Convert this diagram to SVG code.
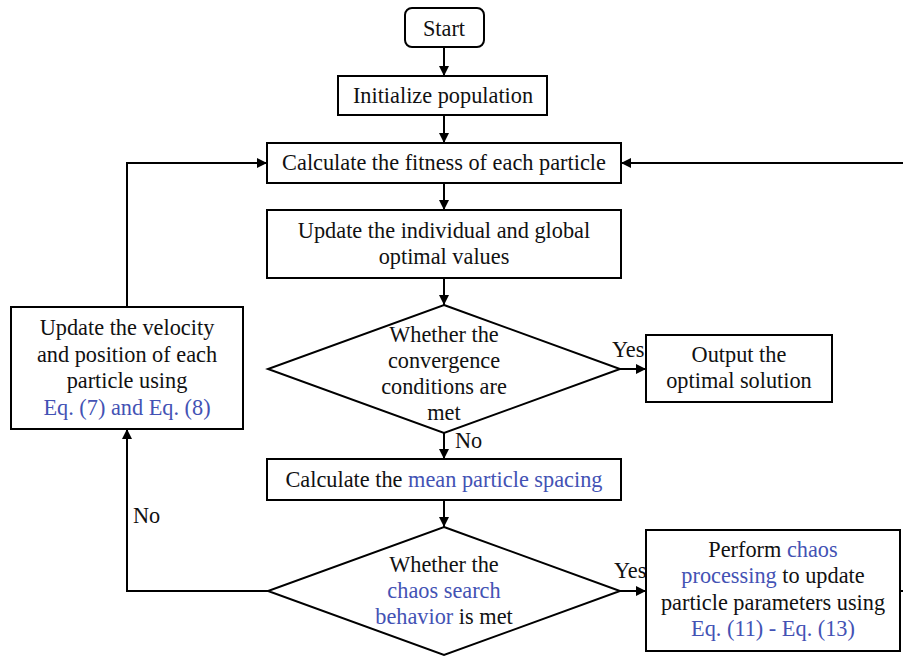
<svg xmlns="http://www.w3.org/2000/svg" width="903" height="658" viewBox="0 0 903 658">
<style>
.box{fill:#fff;stroke:#000;stroke-width:2}
.ln{fill:none;stroke:#000;stroke-width:2}
text{font-family:"Liberation Serif","Times New Roman",serif;font-size:22.3px;fill:#111;text-anchor:middle}
.b{fill:#4352b4}
.l{text-anchor:start}
</style>
<defs>
<marker id="ah" viewBox="0 0 10 10" refX="10" refY="5" markerWidth="10" markerHeight="10" markerUnits="userSpaceOnUse" orient="auto">
<path d="M0,0 L10,5 L0,10 z" fill="#000"/>
</marker>
</defs>
<rect width="903" height="658" fill="#fff"/>
<g id="connectors">
<line class="ln" x1="444" y1="47" x2="444" y2="76" marker-end="url(#ah)"/>
<line class="ln" x1="444" y1="115" x2="444" y2="143" marker-end="url(#ah)"/>
<line class="ln" x1="444" y1="183" x2="444" y2="210" marker-end="url(#ah)"/>
<line class="ln" x1="444" y1="278" x2="444" y2="305" marker-end="url(#ah)"/>
<line class="ln" x1="620" y1="369" x2="646" y2="369" marker-end="url(#ah)"/>
<line class="ln" x1="444" y1="433" x2="444" y2="459" marker-end="url(#ah)"/>
<line class="ln" x1="444" y1="500" x2="444" y2="527" marker-end="url(#ah)"/>
<line class="ln" x1="620" y1="591" x2="646" y2="591" marker-end="url(#ah)"/>
<polyline class="ln" points="268,591 127,591 127,429" marker-end="url(#ah)"/>
<polyline class="ln" points="127,307 127,163 267,163" marker-end="url(#ah)"/>
<line class="ln" x1="903" y1="163" x2="621" y2="163" marker-end="url(#ah)"/>
<line class="ln" x1="900" y1="591" x2="903" y2="591"/>
<text class="l" x="612" y="357">Yes</text>
<text class="l" x="455" y="448">No</text>
<text class="l" x="133" y="523">No</text>
<text class="l" x="614" y="578">Yes</text>
</g>
<g id="start">
<rect class="box" x="405" y="8" width="79" height="39" rx="7"/>
<text x="444" y="36">Start</text>
</g>
<g id="init">
<rect class="box" x="338" y="76" width="209" height="39"/>
<text x="443" y="103">Initialize population</text>
</g>
<g id="fitness">
<rect class="box" x="267" y="143" width="354" height="40"/>
<text x="444" y="170">Calculate the fitness of each particle</text>
</g>
<g id="update-optimal">
<rect class="box" x="267" y="210" width="354" height="68"/>
<text x="444" y="238">Update the individual and global</text>
<text x="444" y="264">optimal values</text>
</g>
<g id="convergence">
<polygon class="box" points="444,305 620,369 444,433 268,369"/>
<text x="444" y="342">Whether the</text>
<text x="444" y="368">convergence</text>
<text x="444" y="394">conditions are</text>
<text x="444" y="420">met</text>
</g>
<g id="output">
<rect class="box" x="646" y="335" width="186" height="67"/>
<text x="739" y="362">Output the</text>
<text x="739" y="388">optimal solution</text>
</g>
<g id="mean-spacing">
<rect class="box" x="267" y="459" width="354" height="41"/>
<text x="444" y="487">Calculate the <tspan class="b">mean particle spacing</tspan></text>
</g>
<g id="chaos-decision">
<polygon class="box" points="444,527 620,591 444,655 268,591"/>
<text x="444" y="572">Whether the</text>
<text x="444" y="598" class="b">chaos search</text>
<text x="444" y="624"><tspan class="b">behavior</tspan> is met</text>
</g>
<g id="chaos-processing">
<rect class="box" x="646" y="530" width="254" height="121"/>
<text x="773" y="557">Perform <tspan class="b">chaos</tspan></text>
<text x="773" y="583"><tspan class="b">processing</tspan> to update</text>
<text x="773" y="610">particle parameters using</text>
<text x="773" y="636" class="b">Eq. (11) - Eq. (13)</text>
</g>
<g id="update-velocity">
<rect class="box" x="11" y="307" width="232" height="122"/>
<text x="127" y="335">Update the velocity</text>
<text x="127" y="362">and position of each</text>
<text x="127" y="388">particle using</text>
<text x="127" y="415" class="b">Eq. (7) and Eq. (8)</text>
</g>
</svg>
